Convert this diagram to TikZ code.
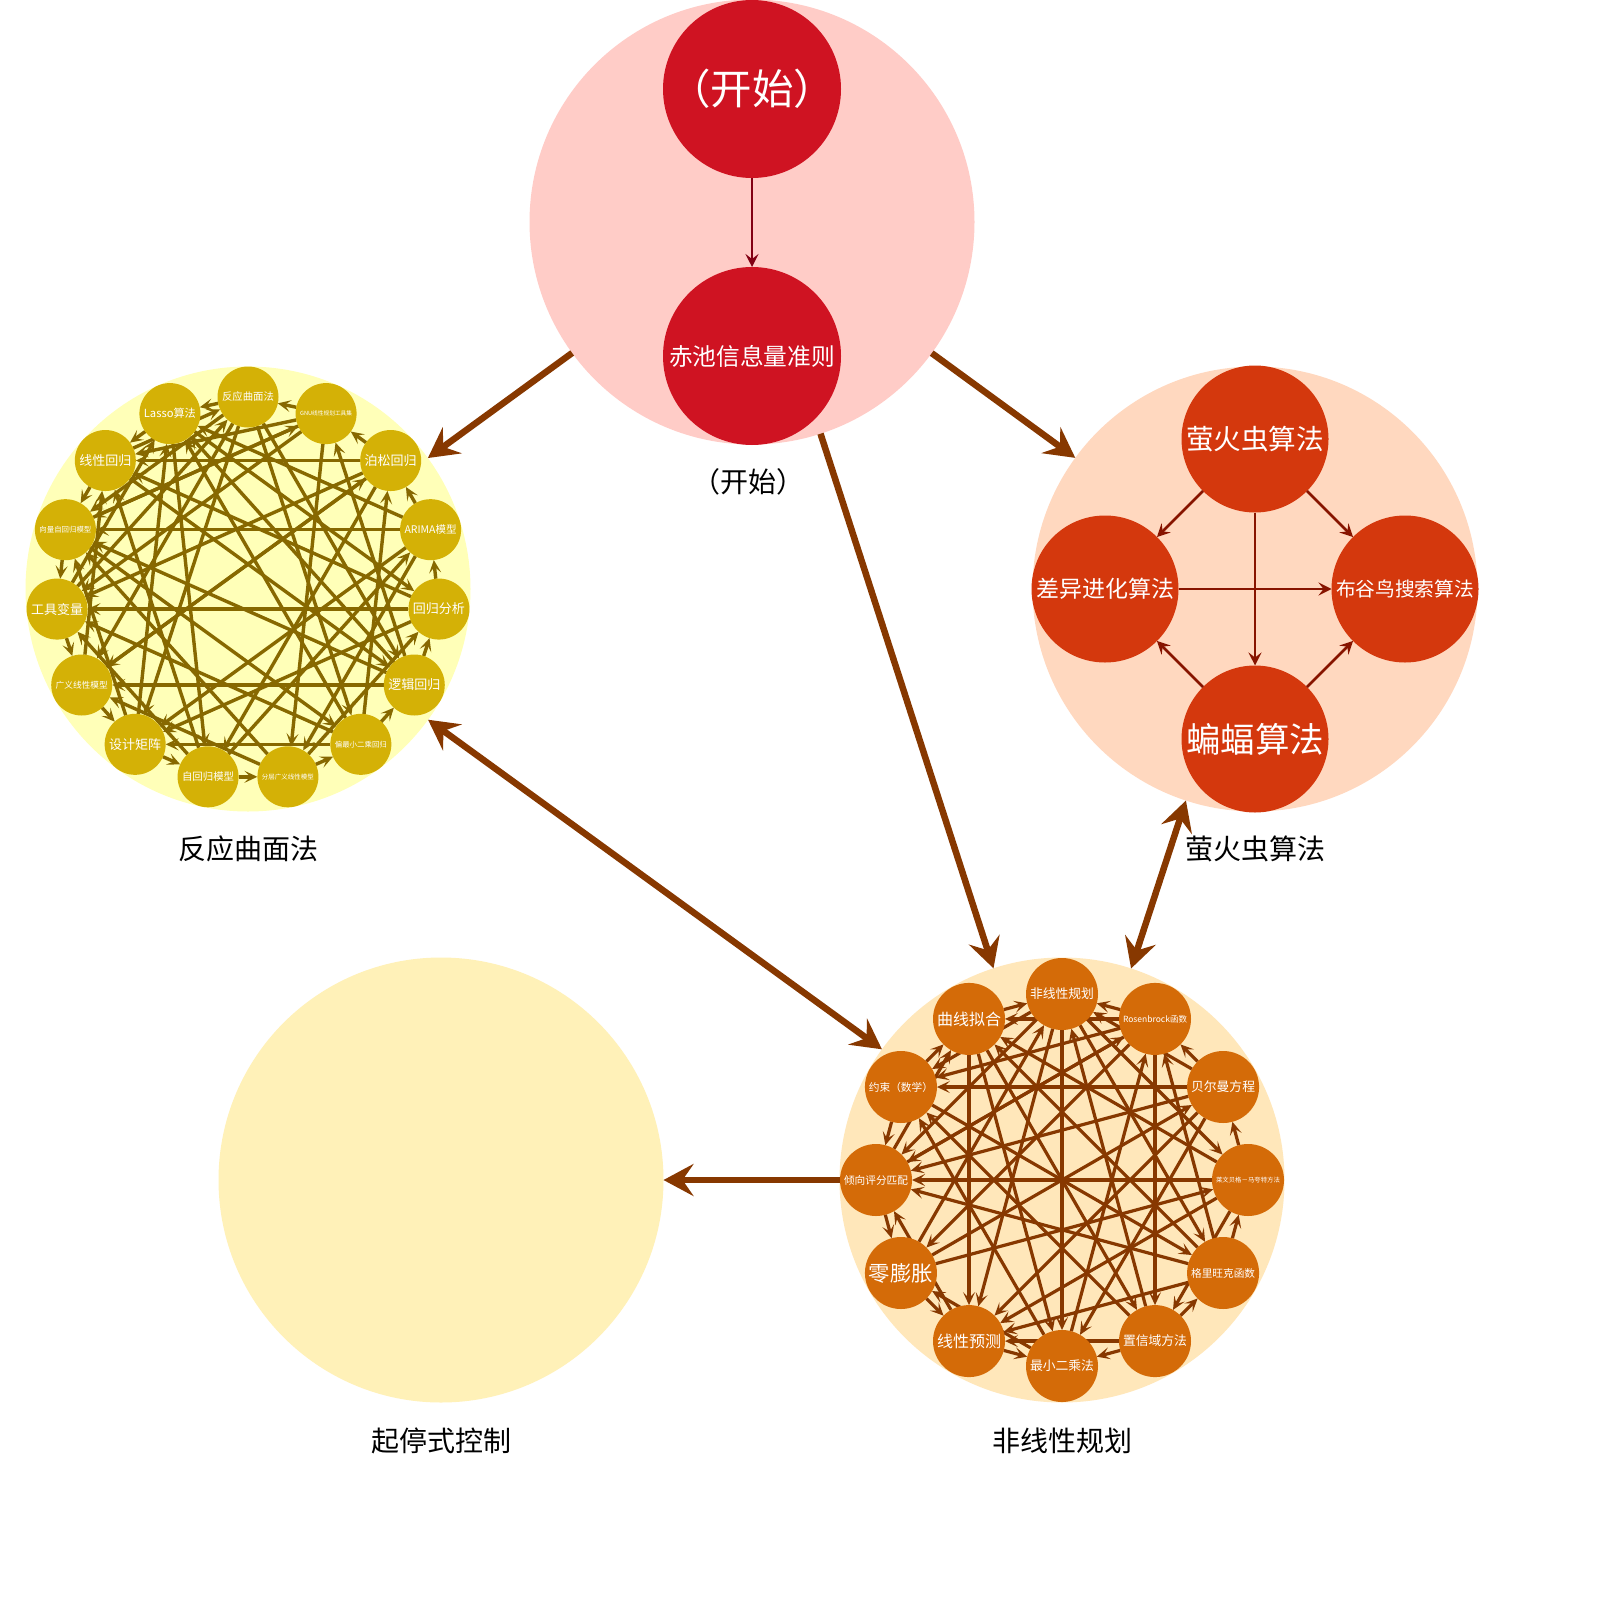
\documentclass[tikz,border=0pt]{standalone}
\usepackage{fontspec}
\usepackage{graphicx}
\setmainfont{Noto Sans CJK SC}
\usetikzlibrary{arrows.meta,calc}
\pgfdeclarelayer{back}
\pgfdeclarelayer{links}
\pgfsetlayers{back,links,main}

\definecolor{pinkbg}{HTML}{FFCCC7}
\definecolor{rednode}{HTML}{CF1322}
\definecolor{redline}{HTML}{820014}
\definecolor{yellowbg}{HTML}{FFFFB8}
\definecolor{yellownode}{HTML}{D4B106}
\definecolor{yellowline}{HTML}{876800}
\definecolor{volcanobg}{HTML}{FFD8BF}
\definecolor{volcanonode}{HTML}{D4380D}
\definecolor{volcanoline}{HTML}{871400}
\definecolor{goldbg}{HTML}{FFF1B8}
\definecolor{orangebg}{HTML}{FFE7BA}
\definecolor{orangenode}{HTML}{D46B08}
\definecolor{orangeline}{HTML}{873800}

% scale a label to a fixed width
\newcommand{\fitto}[2]{\resizebox{#1}{!}{#2}}

\tikzset{
  bigtip/.tip={Stealth[length=30pt,width=32pt,inset=11pt]},
  smalltip/.tip={Stealth[length=13pt,width=12pt,inset=6pt]},
  midtip/.tip={Stealth[length=13pt,width=13pt,inset=5pt]},
  clusterdisc/.style={circle, minimum size=445pt, inner sep=0pt, outer sep=0pt},
  bubble/.style={circle, inner sep=0pt, outer sep=0pt, text=white},
  rednd/.style={bubble, fill=rednode, minimum size=178pt},
  volnd/.style={bubble, fill=volcanonode, minimum size=147pt},
  yelnd/.style={bubble, fill=yellownode, minimum size=61pt},
  orgnd/.style={bubble, fill=orangenode, minimum size=72pt},
  grouplabel/.style={font=\fontsize{28}{32}\selectfont, text=black},
  bigarrow/.style={draw=orangeline, line width=6.5pt, -bigtip},
  redlink/.style={draw=redline, line width=2.5pt, -midtip},
  vollink/.style={draw=volcanoline, line width=2.6pt, -midtip},
  yellink/.style={draw=yellowline, line width=3.4pt, -smalltip},
  orglink/.style={draw=orangeline, line width=3.2pt, -smalltip},
}

\begin{document}
\begin{tikzpicture}[x=1pt,y=-1pt]
\useasboundingbox (0,0) rectangle (1600,1600);

% group discs
\begin{pgfonlayer}{back}
  \fill[white] (0,0) rectangle (1600,1600);
  \node[clusterdisc, fill=pinkbg]    (pbg) at (752,222)  {};
  \node[clusterdisc, fill=yellowbg]  (ybg) at (248,589)  {};
  \node[clusterdisc, fill=volcanobg] (vbg) at (1255,589) {};
  \node[clusterdisc, fill=goldbg]    (gbg) at (441,1180) {};
  \node[clusterdisc, fill=orangebg]  (obg) at (1062,1180) {};
\end{pgfonlayer}

% group titles
\node[grouplabel] (lp) at (748,482)  {（开始）};
\node[grouplabel] (ly) at (248,849)  {反应曲面法};
\node[grouplabel] (lv) at (1255,849) {萤火虫算法};
\node[grouplabel] (lg) at (441,1441) {起停式控制};
\node[grouplabel] (lo) at (1062,1441) {非线性规划};

% start group
\node[rednd] (s0) at (752,89)  {\fitto{166pt}{（开始）}};
\node[rednd] (s1) at (752,356) {\fitto{166pt}{赤池信息量准则}};
\draw[redlink] (s0) -- (s1);

% firefly group
\node[volnd] (f0) at (1255,439) {\fitto{138pt}{萤火虫算法}};
\node[volnd] (f1) at (1105,589) {\fitto{138pt}{差异进化算法}};
\node[volnd] (f2) at (1405,589) {\fitto{138pt}{布谷鸟搜索算法}};
\node[volnd] (f3) at (1255,739) {\fitto{138pt}{蝙蝠算法}};
\draw[vollink] (f1) -- (f2);
\draw[vollink] (f0) -- (f1);
\draw[vollink] (f0) -- (f2);
\draw[vollink] (f0) -- (f3);
\draw[vollink] (f3) -- (f1);
\draw[vollink] (f3) -- (f2);

% response surface group: 15 nodes on a ring
\foreach \i/\t in {0/反应曲面法,1/GNU线性规划工具集,2/泊松回归,3/ARIMA模型,
  4/回归分析,5/逻辑回归,6/偏最小二乘回归,7/分层广义线性模型,8/自回归模型,
  9/设计矩阵,10/广义线性模型,11/工具变量,12/向量自回归模型,13/线性回归,14/Lasso算法}
  \path (ybg.center) ++({192*cos(90-24*\i)},{-192*sin(90-24*\i)})
    node[yelnd] (y\i) {\fitto{52pt}{\t}};

\begin{pgfonlayer}{links}
\foreach \a/\b in {0/14,0/12,0/10,0/6,0/5,0/9,
  1/0,1/13,1/11,1/7,1/12,
  2/13,2/1,2/11,2/8,2/10,
  3/12,3/2,3/14,3/7,3/9,
  4/11,4/3,4/13,4/9,
  5/10,5/4,5/14,5/1,5/12,
  6/9,6/5,6/11,6/2,6/14,
  7/6,7/12,7/10,7/4,
  8/7,8/13,8/3,8/11,
  9/8,9/14,9/12,
  10/9,10/13,10/2,
  11/10,11/14,11/0,
  12/11,12/1,12/6,
  13/12,13/0,13/5,
  14/13,14/4,14/8}
  \draw[yellink] (y\a) -- (y\b);
\end{pgfonlayer}

% nonlinear programming group: 12 nodes on a ring
\foreach \i/\t in {0/非线性规划,1/Rosenbrock函数,2/贝尔曼方程,3/莱文贝格－马夸特方法,
  4/格里旺克函数,5/置信域方法,6/最小二乘法,7/线性预测,8/零膨胀,
  9/倾向评分匹配,10/约束（数学）,11/曲线拟合}
  \path (obg.center) ++({186*cos(90-30*\i)},{-186*sin(90-30*\i)})
    node[orgnd] (o\i) {\fitto{64pt}{\t}};

\begin{pgfonlayer}{links}
\foreach \a/\b in {0/6,0/7,0/9,0/10,0/4,0/3,
  1/5,1/0,1/8,1/10,1/11,1/9,
  2/9,2/1,2/7,2/6,2/0,2/10,
  3/9,3/2,3/7,3/11,3/5,
  4/3,4/7,4/1,4/11,4/9,
  5/6,5/4,5/0,5/7,5/10,
  6/8,6/10,6/1,
  7/6,7/9,
  8/7,8/0,8/3,8/2,
  9/8,9/11,9/1,
  10/9,10/11,10/4,
  11/0,11/7,11/6,11/5}
  \draw[orglink] (o\a) -- (o\b);
\end{pgfonlayer}

% links between groups
\draw[bigarrow] (pbg) -- (ybg);
\draw[bigarrow] (pbg) -- (vbg);
\draw[bigarrow] (pbg) -- (obg);
\draw[bigarrow, bigtip-bigtip] (ybg) -- (obg);
\draw[bigarrow, bigtip-bigtip] (vbg) -- (obg);
\draw[bigarrow] (obg) -- (gbg);
\end{tikzpicture}
\end{document}
